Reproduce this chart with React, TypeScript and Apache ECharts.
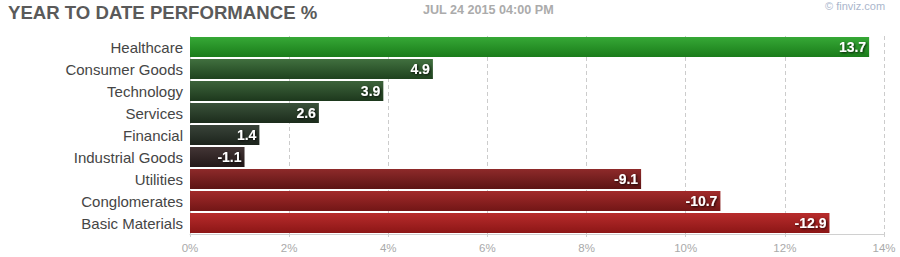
import React, { useEffect, useRef } from "react";
import * as echarts from "echarts";

const categories = [
  "Healthcare",
  "Consumer Goods",
  "Technology",
  "Services",
  "Financial",
  "Industrial Goods",
  "Utilities",
  "Conglomerates",
  "Basic Materials",
];
const values = [13.7, 4.9, 3.9, 2.6, 1.4, -1.1, -9.1, -10.7, -12.9];
const barTop = ["#36a836", "#41703f", "#3d633b", "#3a523a", "#394339", "#433636", "#8e2a2a", "#a22a2a", "#b82c2c"];
const barBottom = ["#1a7c1a", "#1e421e", "#1d381d", "#1c2c1c", "#1c241c", "#221818", "#5c1414", "#721616", "#8c1616"];
const xTicks = [0, 2, 4, 6, 8, 10, 12, 14];

const FONT = "'Liberation Sans', Arial, sans-serif";

export default function App() {
  const ref = useRef<HTMLDivElement>(null);
  useEffect(() => {
    document.body.style.margin = "0";
    const chart = echarts.init(ref.current!, null, { renderer: "svg" });
    const data = values.map((v, i) => ({
      value: Math.abs(v),
      itemStyle: {
        color: new echarts.graphic.LinearGradient(0, 0, 0, 1, [
          { offset: 0, color: barTop[i] },
          { offset: 1, color: barBottom[i] },
        ]),
      },
    }));
    chart.setOption({
      animation: false,
      textStyle: { fontFamily: FONT },
      grid: { left: 190, right: 16, top: 36, bottom: 23, containLabel: false },
      graphic: [
        {
          type: "text",
          left: 8,
          top: 3,
          style: { text: "YEAR TO DATE PERFORMANCE %", fill: "#5a5a5a", font: `bold 18.6px ${FONT}` },
        },
        {
          type: "text",
          left: 423,
          top: 3,
          style: { text: "JUL 24 2015 04:00 PM", fill: "#ababab", font: `bold 12.6px ${FONT}` },
        },
        {
          type: "text",
          left: 825,
          top: 0,
          style: { text: "© finviz.com", fill: "#aab6cc", font: `11px ${FONT}` },
        },
      ],
      xAxis: {
        type: "value",
        min: 0,
        max: 14,
        interval: 2,
        axisLabel: {
          formatter: (v: number) => (xTicks.includes(v) ? `${v}%` : ""),
          color: "#aaaaaa",
          fontSize: 11.5,
          margin: 8,
        },
        axisLine: { show: true, lineStyle: { color: "#d0d0d0" } },
        axisTick: { show: true, length: 3, lineStyle: { color: "#d0d0d0" } },
        splitLine: { show: true, lineStyle: { color: "#cccccc", type: [4, 3] } },
      },
      yAxis: {
        type: "category",
        data: categories,
        inverse: true,
        axisLine: { show: false },
        axisTick: { show: false },
        axisLabel: { color: "#454545", fontSize: 15, margin: 7 },
      },
      series: [
        {
          type: "bar",
          data,
          barWidth: 20,
          label: {
            show: true,
            position: "insideRight",
            distance: 3,
            formatter: (p: any) => `${values[p.dataIndex]}`,
            color: "#ffffff",
            fontWeight: "bold",
            fontSize: 14,
            textShadowColor: "rgba(0,0,0,0.8)",
            textShadowBlur: 2,
            textShadowOffsetX: 1,
            textShadowOffsetY: 1,
          },
        },
      ],
    });
    return () => chart.dispose();
  }, []);
  return <div ref={ref} style={{ width: 900, height: 257 }} />;
}
